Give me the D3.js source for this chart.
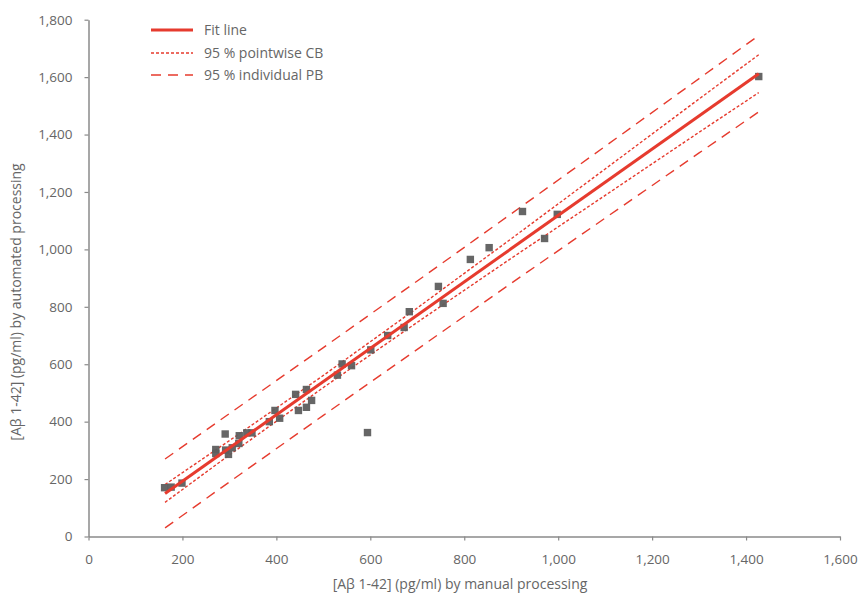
<!DOCTYPE html>
<html>
<head>
<meta charset="utf-8">
<script src="https://cdn.jsdelivr.net/npm/d3@7"></script>
<style>
  body { margin: 0; background: #fff; }
  text { font-family: 'Open Sans', sans-serif; fill: #666; }
</style>
</head>
<body>
<svg class="chartSvg"></svg>
<script>
// measured points, manual vs automated
const manual = [162, 176, 199, 271, 271, 291, 292, 298, 306, 320, 321, 337, 348, 385, 397, 407, 441, 447, 464, 464, 475, 530, 540, 560, 594, 601, 637, 672, 683, 745, 755, 813, 853, 924, 971, 998, 1427];
const automated = [170, 172, 186, 303, 289, 357, 301, 286, 309, 324, 351, 361, 361, 400, 439, 412, 495, 439, 512, 450, 474, 562, 601, 595, 362, 650, 700, 728, 783, 871, 812, 965, 1006, 1132, 1038, 1122, 1602];

// fit line and bands
const fitX = [163, 1427];
const fitY = [150, 1612];
const bandX = [163, 300, 500, 700, 900, 1100, 1300, 1427];
const cbUpper = [181, 334, 561, 796, 1037, 1280, 1524, 1678];
const cbLower = [119, 284, 519, 746, 969, 1188, 1408, 1546];
const pbUpper = [270, 428, 658, 890, 1124, 1359, 1595, 1745];
const pbLower = [30, 190, 422, 652, 882, 1109, 1336, 1479];

const xTicks = [0, 200, 400, 600, 800, 1000, 1200, 1400, 1600];
const yTicks = [0, 200, 400, 600, 800, 1000, 1200, 1400, 1600, 1800];
const legendLabels = ['Fit line', '95 % pointwise CB', '95 % individual PB'];

const red = '#e63b2e';
const svg = d3.select('.chartSvg').attr('width', 862).attr('height', 594);

const x = d3.scaleLinear().domain([0, 1600]).range([88.5, 840]);
const y = d3.scaleLinear().domain([0, 1800]).range([536.5, 19.7]);
const fmt = d3.format(',');

const xAxis = svg.append('g')
  .attr('transform', 'translate(0,536.5)')
  .call(d3.axisBottom(x).tickValues(xTicks).tickFormat(fmt).tickSize(4).tickSizeOuter(0));
const yAxis = svg.append('g')
  .attr('transform', 'translate(88.5,0)')
  .call(d3.axisLeft(y).tickValues(yTicks).tickFormat(fmt).tickSize(4).tickSizeOuter(0));

[xAxis, yAxis].forEach(function(a) {
  a.select('.domain').attr('stroke', '#8a8a8a').attr('stroke-width', 1.5);
  a.selectAll('.tick line').attr('stroke', '#8a8a8a').attr('stroke-width', 1.2);
  a.selectAll('.tick text').style('font-size', '13.5px').attr('fill', '#666');
});
xAxis.selectAll('.tick text').attr('dy', '1.55em');
yAxis.selectAll('.tick text').attr('x', -16);

// axis titles
svg.append('text')
  .attr('x', 460).attr('y', 589)
  .attr('text-anchor', 'middle')
  .style('font-size', '14px')
  .text('[Aβ 1-42] (pg/ml) by manual processing');
svg.append('text')
  .attr('transform', 'translate(21,302) rotate(-90)')
  .attr('text-anchor', 'middle')
  .style('font-size', '14px')
  .text('[Aβ 1-42] (pg/ml) by automated processing');

// bands
const line = d3.line().x(d => x(d[0])).y(d => y(d[1]));
const bands = [
  { v: pbUpper, dash: '10,7' },
  { v: pbLower, dash: '10,7' },
  { v: cbUpper, dash: '3,2' },
  { v: cbLower, dash: '3,2' }
];
bands.forEach(function(b) {
  svg.append('path')
    .attr('d', line(bandX.map((d, i) => [d, b.v[i]])))
    .attr('fill', 'none')
    .attr('stroke', red)
    .attr('stroke-width', 1.4)
    .attr('stroke-dasharray', b.dash);
});

// points
svg.append('g').selectAll('rect')
  .data(manual.map((d, i) => [d, automated[i]]))
  .enter()
  .append('rect')
  .attr('x', d => x(d[0]) - 3.7)
  .attr('y', d => y(d[1]) - 3.7)
  .attr('width', 7.4)
  .attr('height', 7.4)
  .attr('fill', '#5e5e5e')
  .style('opacity', 0.95);

// fit line on top
svg.append('path')
  .attr('d', line(fitX.map((d, i) => [d, fitY[i]])))
  .attr('fill', 'none')
  .attr('stroke', red)
  .attr('stroke-width', 3);

// legend
const dashes = [null, '3,2', '10,7'];
const widths = [3, 1.4, 1.4];
const lg = svg.append('g').selectAll('g')
  .data(legendLabels)
  .enter()
  .append('g')
  .attr('transform', (d, i) => 'translate(151,' + [30, 53, 75][i] + ')');
lg.append('line')
  .attr('x1', 0).attr('x2', 42)
  .attr('stroke', red)
  .attr('stroke-width', (d, i) => widths[i])
  .attr('stroke-dasharray', (d, i) => dashes[i]);
lg.append('text')
  .attr('x', 53).attr('dy', '0.35em')
  .style('font-size', '14px')
  .text(d => d);
</script>
</body>
</html>
